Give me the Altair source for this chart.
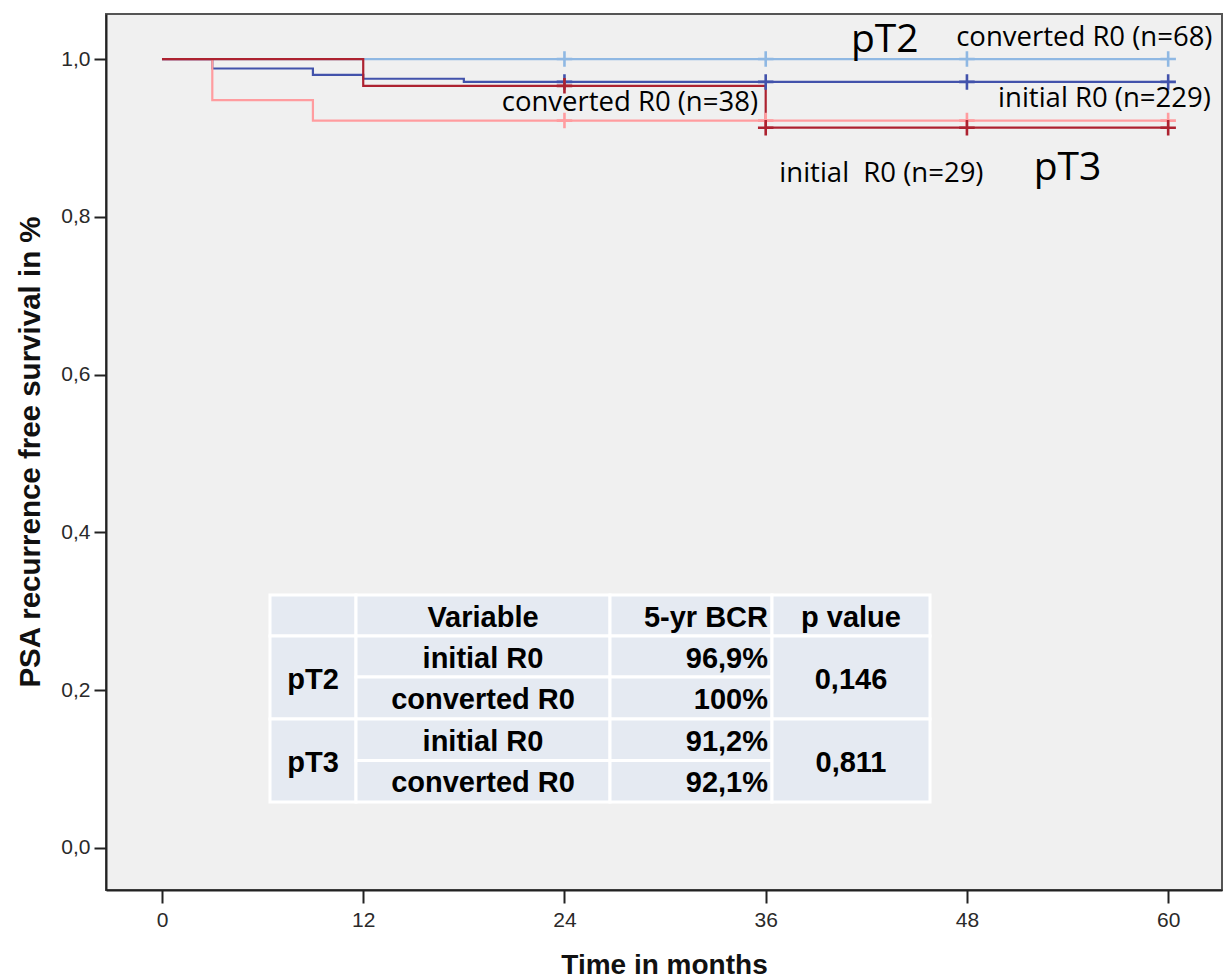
import altair as alt
import pandas as pd

# ---------------- data ----------------
curve_names = ["pT2 converted R0", "pT2 initial R0", "pT3 converted R0", "pT3 initial R0"]
curve_colors = ["#8fb8e3", "#4252ab", "#ff9c9f", "#ad2230"]

t_pt2_conv = [0, 60]
s_pt2_conv = [1.0, 1.0]
t_pt2_init = [0, 3, 9, 12, 18, 60]
s_pt2_init = [1.0, 0.988, 0.980, 0.975, 0.971, 0.971]
t_pt3_conv = [0, 3, 9, 60]
s_pt3_conv = [1.0, 0.948, 0.922, 0.922]
t_pt3_init = [0, 12, 36, 60]
s_pt3_init = [1.0, 0.966, 0.913, 0.913]

censor_times = [24, 36, 48, 60]

x_ticks = [0, 12, 24, 36, 48, 60]
y_ticks = [0.0, 0.2, 0.4, 0.6, 0.8, 1.0]

ann_text = ["pT2", "converted R0 (n=68)", "converted R0 (n=38)",
            "initial R0 (n=229)", "initial\u00a0 R0 (n=29)", "pT3"]
ann_x = [43.1, 55.0, 27.9, 56.2, 42.9, 54.0]
ann_y = [1.024, 1.027, 0.944, 0.949, 0.854, 0.862]
ann_big = [True, False, False, False, False, True]

tbl_header = ["", "Variable", "5-yr BCR", "p value"]
tbl_groups = ["pT2", "pT3"]
tbl_vars = ["initial R0", "converted R0"]
tbl_bcr = [["96,9%", "100%"], ["91,2%", "92,1%"]]
tbl_p = ["0,146", "0,811"]

# ---------------- build tables ----------------
curves = [(t_pt2_conv, s_pt2_conv), (t_pt2_init, s_pt2_init),
          (t_pt3_conv, s_pt3_conv), (t_pt3_init, s_pt3_init)]
rows, cens = [], []
for i, (name, (ts, ss)) in enumerate(zip(curve_names, curves)):
    for t, s in zip(ts, ss):
        rows.append({"g": name, "t": t, "s": s, "o": i})
    for ct in censor_times:
        sv = [s for t, s in zip(ts, ss) if t <= ct][-1]
        cens.append({"g": name, "t": ct, "s": sv, "o": i})
df = pd.DataFrame(rows)
dfc = pd.DataFrame(cens)
dfa = pd.DataFrame({"txt": ann_text, "x": ann_x, "y": ann_y, "big": ann_big})

W, H = 1116, 876
xs = alt.Scale(domain=[-3.339, 63.21], nice=False, zero=False)
ys = alt.Scale(domain=[-0.0533, 1.0571], nice=False, zero=False)
cs = alt.Scale(domain=curve_names, range=curve_colors)

base_x = alt.X("t:Q", scale=xs, title="Time in months",
               axis=alt.Axis(values=x_ticks, format="d", grid=False))
base_y = alt.Y("s:Q", scale=ys, title="PSA recurrence free survival in %",
               axis=alt.Axis(values=y_ticks, grid=False,
                             labelExpr="replace(format(datum.value, '.1f'), '.', ',')"))

lines = alt.Chart(df).mark_line(interpolate="step-after", strokeWidth=2.2).encode(
    x=base_x, y=base_y,
    color=alt.Color("g:N", scale=cs, legend=None),
    detail="g:N", order="t:Q")

marks = alt.Chart(dfc).mark_point(shape="M-1,0L1,0M0,-1L0,1", size=240,
                                  strokeWidth=2.6, filled=False, opacity=1).encode(
    x=alt.X("t:Q", scale=xs), y=alt.Y("s:Q", scale=ys),
    color=alt.Color("g:N", scale=cs, legend=None))

afont = "Open Sans"
ann_small = alt.Chart(dfa[~dfa.big]).mark_text(font=afont, fontSize=27.5, color="#000",
                                               align="center", baseline="middle").encode(
    x=alt.X("x:Q", scale=xs), y=alt.Y("y:Q", scale=ys), text="txt:N")
ann_large = alt.Chart(dfa[dfa.big]).mark_text(font=afont, fontSize=39, color="#000",
                                              align="center", baseline="middle").encode(
    x=alt.X("x:Q", scale=xs), y=alt.Y("y:Q", scale=ys), text="txt:N")

# ---------------- summary table (pixel layout inside plot) ----------------
col_edges = [164, 250, 504, 666, 824]
row_edges = [581, 622, 663, 705, 746.5, 788]
cells, texts = [], []

def add_cell(c, r0, r1, label, align):
    x0, x1 = col_edges[c], col_edges[c + 1]
    y0, y1 = row_edges[r0], row_edges[r1]
    cells.append({"x0": x0, "x1": x1, "y0": y0, "y1": y1})
    if label:
        tx = x1 - 4 if align == "right" else (x0 + x1) / 2
        texts.append({"tx": tx, "ty": (y0 + y1) / 2 + 2, "lab": label, "al": align})

for c, h in enumerate(tbl_header):
    add_cell(c, 0, 1, h, "right" if c == 2 else "center")
for g, grp in enumerate(tbl_groups):
    r = 1 + 2 * g
    add_cell(0, r, r + 2, grp, "center")
    for k, v in enumerate(tbl_vars):
        add_cell(1, r + k, r + k + 1, v, "center")
        add_cell(2, r + k, r + k + 1, tbl_bcr[g][k], "right")
    add_cell(3, r, r + 2, tbl_p[g], "center")

dcell = pd.DataFrame(cells)
dtext = pd.DataFrame(texts)
px = alt.Scale(domain=[0, W], range=[0, W], nice=False, zero=False)
py = alt.Scale(domain=[0, H], range=[0, H], nice=False, zero=False)

tcells = alt.Chart(dcell).mark_rect(fill="#e5eaf2", stroke="#ffffff", strokeWidth=3).encode(
    x=alt.X("x0:Q", scale=px, axis=None), x2="x1:Q",
    y=alt.Y("y0:Q", scale=py, axis=None), y2="y1:Q")

tfont = "Liberation Sans"
ttext_c = alt.Chart(dtext[dtext.al == "center"]).mark_text(
    font=tfont, fontSize=29, fontWeight="bold", color="#000", align="center", baseline="middle").encode(
    x=alt.X("tx:Q", scale=px, axis=None), y=alt.Y("ty:Q", scale=py, axis=None), text="lab:N")
ttext_r = alt.Chart(dtext[dtext.al == "right"]).mark_text(
    font=tfont, fontSize=29, fontWeight="bold", color="#000", align="right", baseline="middle").encode(
    x=alt.X("tx:Q", scale=px, axis=None), y=alt.Y("ty:Q", scale=py, axis=None), text="lab:N")

table = alt.layer(tcells, ttext_c, ttext_r).resolve_scale(x="shared", y="shared")

main = alt.layer(lines, marks, ann_small, ann_large)

chart = alt.layer(main, table).resolve_scale(x="independent", y="independent").properties(
    width=W, height=H,
    autosize=alt.AutoSizeParams(type="none"),
    padding={"left": 106, "top": 14, "right": 3, "bottom": 88},
    background="#ffffff",
).configure_view(
    fill="#f0f0f0", stroke="#555555", strokeWidth=2
).configure_axis(
    domainColor="#222222", domainWidth=2, tickColor="#222222", tickWidth=2,
    labelFont="Liberation Sans", labelColor="#2a2a2a", labelFontSize=21,
    titleFont="Liberation Sans", titleFontWeight="bold", titleColor="#111111", titleFontSize=28,
).configure_axisY(
    tickSize=12, labelPadding=4, titleX=-76, titleY=437.5, titleAlign="center",
    titleBaseline="middle", titleAngle=270, titleFontSize=29.5,
).configure_axisX(
    tickSize=13, labelPadding=6, titleY=75, titleBaseline="middle",
)

chart.save("out.html", embed_options={"renderer": "svg", "actions": False})
